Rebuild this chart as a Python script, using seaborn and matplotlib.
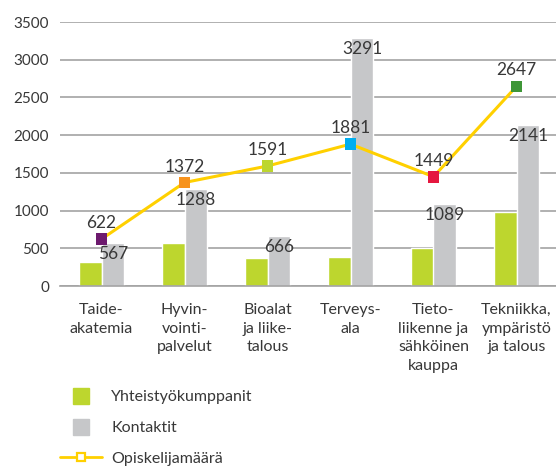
import matplotlib
matplotlib.use("Agg")
import matplotlib.pyplot as plt
import pandas as pd
import seaborn as sns
from matplotlib.lines import Line2D

# Data
categories = ["Taide-\nakatemia", "Hyvin-\nvointi-\npalvelut", "Bioalat\nja liike-\ntalous",
              "Terveys-\nala", "Tieto-\nliikenne ja\nsähköinen\nkauppa", "Tekniikka,\nympäristö\nja talous"]
partners = [320, 570, 375, 385, 500, 985]
contacts = [567, 1288, 666, 3291, 1089, 2141]
students = [622, 1372, 1591, 1881, 1449, 2647]
marker_colors = ["#6D1A6E", "#F7931E", "#BDD62E", "#00AEEF", "#E5173F", "#3E9637"]

series_names = ["Yhteistyökumppanit", "Kontaktit", "Opiskelijamäärä"]
GREEN = "#BDD62E"
GRAY = "#C6C7C9"
YELLOW = "#FFD000"
TEXT = "#383838"
GRID = "#a3a3a3"

sns.set_style("white")
plt.rcParams["font.family"] = ["Lato", "DejaVu Sans"]

df = pd.DataFrame({
    "ala": categories * 2,
    "sarja": [series_names[0]] * len(categories) + [series_names[1]] * len(categories),
    "arvo": partners + contacts,
})

fig = plt.figure(figsize=(5.56, 4.68), dpi=100)
ax = fig.add_axes([60 / 556, 182 / 468, 498 / 556, 264 / 468])

sns.barplot(data=df, x="ala", y="arvo", hue="sarja",
            palette={series_names[0]: GREEN, series_names[1]: GRAY},
            width=0.554, gap=0, saturation=1, legend=False, ax=ax, zorder=2)

# labels for the grey bars, just inside the top
for p in ax.containers[1]:
    h = p.get_height()
    ax.annotate(f"{int(h)}", (p.get_x() + p.get_width() / 2, h),
                xytext=(0, -8), textcoords="offset points",
                ha="center", va="center", fontsize=12.5, color=TEXT, zorder=5)

xs = list(range(len(categories)))
ax.plot(xs, students, color=YELLOW, lw=2.2, zorder=3)
ax.scatter(xs, students, marker="s", s=70, c=marker_colors, zorder=4, linewidths=0)
for x, v in zip(xs, students):
    ax.annotate(f"{v}", (x, v), xytext=(0, 11.5), textcoords="offset points",
                ha="center", va="center", fontsize=12.5, color=TEXT, zorder=5)

ax.set_xlim(-0.5, len(categories) - 0.5)
ax.set_ylim(0, 3500)
ax.set_yticks(range(0, 3501, 500))
ax.yaxis.grid(True, color=GRID, lw=1.2)
ax.set_axisbelow(True)
ax.set_xlabel("")
ax.set_ylabel("")

for s in ["left", "top", "right"]:
    ax.spines[s].set_visible(False)
ax.spines["bottom"].set_color(GRID)
ax.spines["bottom"].set_linewidth(1.2)

ax.set_xticks(xs)
ax.set_xticklabels(categories, fontsize=11.5, color=TEXT, linespacing=1.4)
ax.set_xticks([x + 0.5 for x in xs[:-1]], minor=True)
ax.tick_params(axis="x", which="major", length=0, pad=12.5)
ax.tick_params(axis="x", which="minor", length=5, direction="in", color=GRID, width=1.2)
ax.tick_params(axis="y", length=0, pad=8, labelsize=11, labelcolor=TEXT)

handles = [
    Line2D([], [], marker="s", ms=11.5, linestyle="none", color=GREEN),
    Line2D([], [], marker="s", ms=11.5, linestyle="none", color=GRAY),
    Line2D([], [], marker="s", ms=6, color=YELLOW, lw=2, markerfacecolor="white",
           markeredgecolor=YELLOW, markeredgewidth=1.6),
]
fig.legend(handles, series_names, loc="upper left", bbox_to_anchor=(52 / 556, 1 - 382 / 468),
           frameon=False, fontsize=11.5, handlelength=2.6, handletextpad=0.6,
           labelspacing=1.05, borderpad=0, labelcolor=TEXT)

fig.savefig("out.png", dpi=100)
